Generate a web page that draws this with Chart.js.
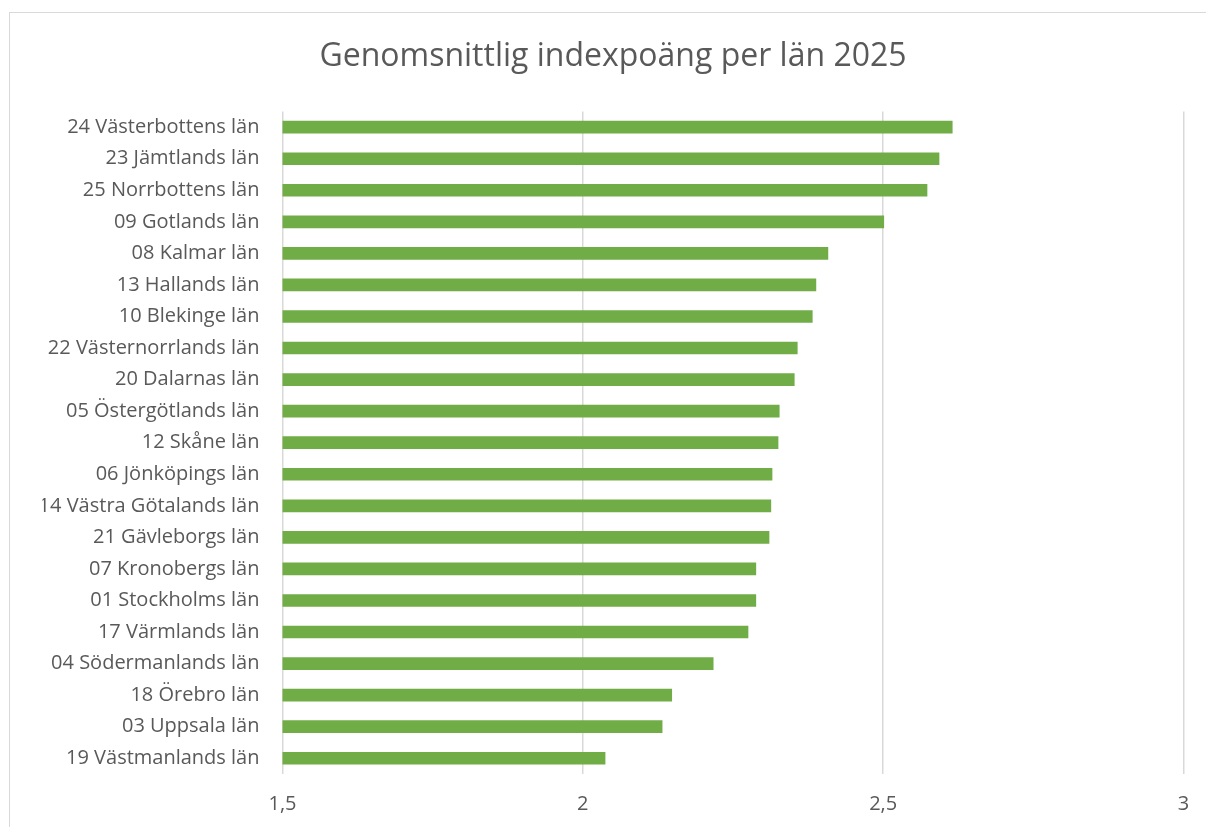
<!DOCTYPE html>
<html>
<head>
<meta charset="utf-8">
<script src="https://cdn.jsdelivr.net/npm/chart.js@4/dist/chart.umd.min.js"></script>
<style>
  body { margin: 0; background: #fff; overflow: hidden; }
  #ram {
    position: absolute; left: 9px; top: 12px;
    width: 1260px; height: 860px;
    border: 1px solid #d9d9d9; background: #fff;
  }
  #diagram { position: absolute; left: 0; top: 0; }
</style>
</head>
<body>
<div id="ram"><canvas id="diagram" width="1206" height="815"></canvas></div>
<script>
const lan = [
    '24 Västerbottens län',
    '23 Jämtlands län',
    '25 Norrbottens län',
    '09 Gotlands län',
    '08 Kalmar län',
    '13 Hallands län',
    '10 Blekinge län',
    '22 Västernorrlands län',
    '20 Dalarnas län',
    '05 Östergötlands län',
    '12 Skåne län',
    '06 Jönköpings län',
    '14 Västra Götalands län',
    '21 Gävleborgs län',
    '07 Kronobergs län',
    '01 Stockholms län',
    '17 Värmlands län',
    '04 Södermanlands län',
    '18 Örebro län',
    '03 Uppsala län',
    '19 Västmanlands län'
];
const indexpoang = [
    2.615, 2.593, 2.573, 2.501, 2.408, 2.388, 2.382, 2.357, 2.352, 2.327, 2.325,
    2.315, 2.313, 2.310, 2.288, 2.288, 2.275, 2.217, 2.148, 2.132, 2.037
];
const xTicks = [1.5, 2, 2.5, 3];

const typsnitt = "'Open Sans', Lato, sans-serif";
const textfarg = '#595959';

new Chart(document.getElementById('diagram'), {
    type: 'bar',
    data: {
        labels: lan,
        datasets: [{
            data: indexpoang,
            backgroundColor: '#70ad47',
            borderWidth: 0,
            barThickness: 12
        }]
    },
    options: {
        indexAxis: 'y',
        responsive: false,
        animation: false,
        // lika utfyllnad vänster/höger så att rubriken hamnar mitt i ramen
        layout: { padding: { top: 0, right: 32.5, bottom: 10, left: 32.5 } },
        plugins: {
            legend: { display: false },
            tooltip: { enabled: false },
            title: {
                display: true,
                text: 'Genomsnittlig indexpoäng per län 2025',
                color: textfarg,
                font: { family: typsnitt, size: 32, weight: 'normal' },
                padding: { top: 24.5, bottom: 35.5 }
            }
        },
        scales: {
            x: {
                min: 1.5,
                max: 3,
                afterBuildTicks: scale => {
                    scale.ticks = xTicks.map(v => ({ value: v }));
                },
                afterFit: scale => { scale.height = 44; },
                ticks: {
                    color: textfarg,
                    font: { family: typsnitt, size: 20 },
                    padding: 18,
                    callback: v => String(v).replace('.', ',')
                },
                grid: { color: '#d9d9d9', lineWidth: 1.5, drawTicks: false },
                border: { display: false }
            },
            y: {
                afterFit: scale => { scale.width = 240; },
                ticks: {
                    color: textfarg,
                    font: { family: typsnitt, size: 20 },
                    padding: 23
                },
                grid: { display: false, drawTicks: false },
                border: { display: false }
            }
        }
    }
});
</script>
</body>
</html>
